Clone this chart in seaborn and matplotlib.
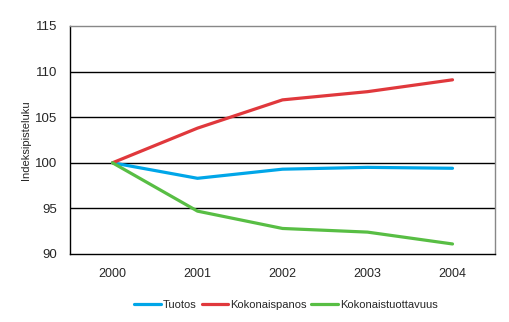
import matplotlib
matplotlib.use("Agg")
import matplotlib.pyplot as plt
import seaborn as sns
import pandas as pd

years = ["2000", "2001", "2002", "2003", "2004"]
tuotos = [100.0, 98.3, 99.3, 99.5, 99.4]
kokonaispanos = [100.0, 103.8, 106.9, 107.8, 109.1]
kokonaistuottavuus = [100.0, 94.7, 92.8, 92.4, 91.1]
series_names = ["Tuotos", "Kokonaispanos", "Kokonaistuottavuus"]
colors = ["#00A6E8", "#E0383C", "#58BE44"]

sns.set_style("white")
plt.rcParams["font.family"] = ["Liberation Sans", "DejaVu Sans"]

rows = []
for name, vals in zip(series_names, [tuotos, kokonaispanos, kokonaistuottavuus]):
    for i, (yr, v) in enumerate(zip(years, vals)):
        rows.append({"pos": i, "year": yr, "value": v, "series": name})
df = pd.DataFrame(rows)

fig = plt.figure(figsize=(5.10, 3.22), dpi=100)
ax = fig.add_axes([70 / 510, 1 - 254 / 322, 425 / 510, 228 / 322])

sns.lineplot(data=df, x="pos", y="value", hue="series", hue_order=series_names,
             palette=colors, linewidth=2.3, ax=ax, legend=True)

ax.set_xlim(-0.5, 4.5)
ax.set_ylim(90, 115)
ax.set_yticks([90, 95, 100, 105, 110, 115])
ax.set_yticklabels(["90", "95", "100", "105", "110", "115"], fontsize=9.5)
for y in [95, 100, 105, 110]:
    ax.axhline(y, color="black", linewidth=1.0, zorder=0)

# category boundaries carry the ticks, labels sit at the centres
ax.set_xticks([-0.5, 0.5, 1.5, 2.5, 3.5, 4.5])
ax.set_xticklabels([""] * 6)
ax.set_xticks(range(len(years)), minor=True)
ax.set_xticklabels(years, minor=True, fontsize=9)
ax.tick_params(axis="x", which="major", direction="out", length=4, width=1, color="black")
ax.tick_params(axis="x", which="minor", length=0, pad=10)
ax.tick_params(axis="y", direction="out", length=4, width=1, color="black", pad=5)

ax.set_xlabel("")
ax.set_ylabel("Indeksipisteluku", fontsize=8)
ax.yaxis.set_label_coords(-0.092, 0.5)

for side in ["left", "bottom"]:
    ax.spines[side].set_color("black")
    ax.spines[side].set_linewidth(1.0)
for side in ["top", "right"]:
    ax.spines[side].set_visible(True)
    ax.spines[side].set_color("#888888")
    ax.spines[side].set_linewidth(1.0)

leg = ax.legend(loc="center", bbox_to_anchor=(286 / 510, 1 - 305 / 322),
                bbox_transform=fig.transFigure, ncol=3, frameon=False,
                fontsize=8, handlelength=2.4, handletextpad=0.15, columnspacing=0.45)
for line in leg.get_lines():
    line.set_linewidth(2.3)

fig.savefig("out.png", dpi=100)
